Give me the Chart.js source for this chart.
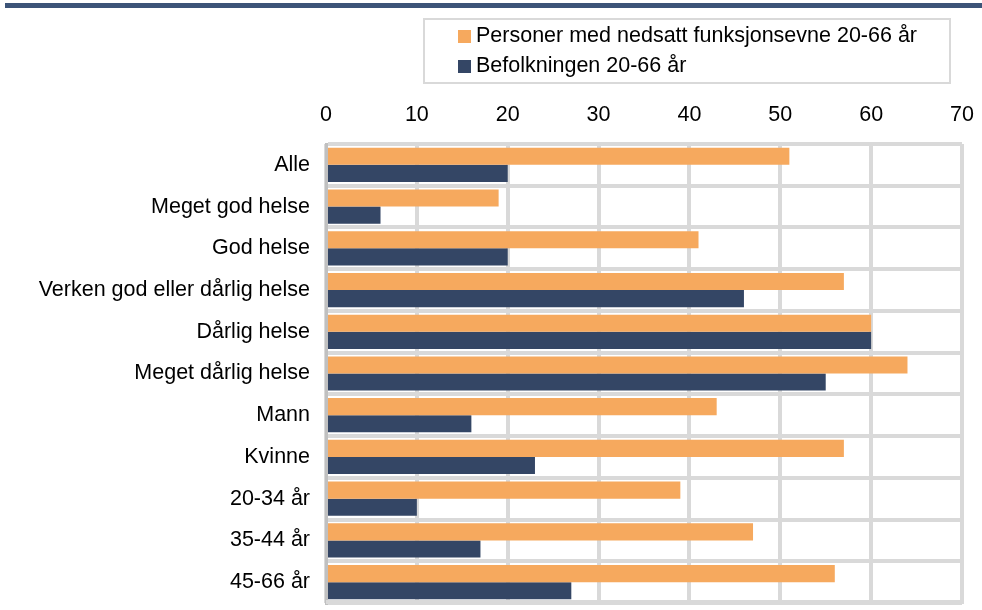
<!DOCTYPE html>
<html>
<head>
  <meta charset="utf-8">
  <title>Andel med helseplager</title>
  <script src="https://cdn.jsdelivr.net/npm/chart.js"></script>
  <style>
    body {
      margin: 0;
      padding: 0;
      background-color: #fff;
      font-family: "Liberation Sans", Arial, sans-serif;
    }
    .wrap {
      position: relative;
      width: 982px;
      height: 610px;
    }
    .topline {
      position: absolute;
      left: 5px;
      right: 0;
      top: 3px;
      height: 5px;
      background: #3c5478;
    }
    .legend {
      position: absolute;
      left: 423px;
      top: 18px;
      width: 528px;
      height: 66px;
      border: 2px solid #d9d9d9;
      box-sizing: border-box;
      padding-top: 0px;
      padding-left: 33px;
      font-size: 21.5px;
      color: #000;
    }
    .legend div {
      height: 30px;
      line-height: 30px;
      white-space: nowrap;
    }
    .legend span.box {
      display: inline-block;
      width: 13px;
      height: 13px;
      margin-right: 5px;
      vertical-align: -1px;
    }
    canvas {
      position: absolute;
      left: 0;
      top: 0;
    }
  </style>
</head>
<body>
  <div class="wrap">
    <canvas id="chart" width="982" height="610"></canvas>
    <div class="topline"></div>
    <div class="legend" id="legend"></div>
  </div>

  <script>
    // ----- Data -----
    const categories = [
      "Alle",
      "Meget god helse",
      "God helse",
      "Verken god eller dårlig helse",
      "Dårlig helse",
      "Meget dårlig helse",
      "Mann",
      "Kvinne",
      "20-34 år",
      "35-44 år",
      "45-66 år"
    ];

    const seriesNames = [
      "Personer med nedsatt funksjonsevne 20-66 år",
      "Befolkningen 20-66 år"
    ];

    const disabledValues = [51, 19, 41, 57, 60, 64, 43, 57, 39, 47, 56];
    const populationValues = [20, 6, 20, 46, 60, 55, 16, 23, 10, 17, 27];

    const xTicks = [0, 10, 20, 30, 40, 50, 60, 70];

    const colors = ["#f6a95e", "#344665"];

    // ----- Legend (html) -----
    const legendEl = document.getElementById("legend");
    seriesNames.forEach((name, i) => {
      const row = document.createElement("div");
      const box = document.createElement("span");
      box.className = "box";
      box.style.background = colors[i];
      row.appendChild(box);
      row.appendChild(document.createTextNode(name));
      legendEl.appendChild(row);
    });

    // bottom frame line of the plot area
    const frameBottom = {
      id: "frameBottom",
      beforeDatasetsDraw(chart) {
        const { ctx, chartArea } = chart;
        ctx.save();
        ctx.strokeStyle = "#d9d9d9";
        ctx.lineWidth = 4;
        ctx.beginPath();
        ctx.moveTo(chartArea.left, chartArea.bottom - 1);
        ctx.lineTo(chartArea.right + 2, chartArea.bottom - 1);
        ctx.stroke();
        ctx.restore();
      }
    };

    // ----- Chart -----
    const ctx = document.getElementById("chart").getContext("2d");
    new Chart(ctx, {
      type: "bar",
      data: {
        labels: categories,
        datasets: [
          {
            label: seriesNames[0],
            data: disabledValues,
            backgroundColor: colors[0]
          },
          {
            label: seriesNames[1],
            data: populationValues,
            backgroundColor: colors[1]
          }
        ]
      },
      options: {
        indexAxis: "y",
        responsive: false,
        animation: false,
        datasets: {
          bar: {
            categoryPercentage: 0.82,
            barPercentage: 1.0
          }
        },
        layout: {
          padding: { top: 100, left: 10, right: 20, bottom: 7 }
        },
        scales: {
          x: {
            position: "top",
            min: 0,
            max: 70,
            afterBuildTicks: (scale) => {
              scale.ticks = xTicks.map(v => ({ value: v }));
            },
            afterFit: (scale) => {
              scale.height = 44;
              scale.paddingLeft = 0;
              scale.paddingRight = 0;
            },
            grid: {
              color: "#d9d9d9",
              lineWidth: 4,
              drawTicks: false
            },
            border: { display: false },
            ticks: {
              color: "#000",
              padding: 16,
              font: { family: "Liberation Sans", size: 21.5 }
            }
          },
          y: {
            afterFit: (scale) => {
              scale.width = 316;
              scale.paddingTop = 0;
              scale.paddingBottom = 0;
            },
            grid: {
              color: "#d9d9d9",
              lineWidth: 4,
              drawTicks: false,
              offset: true
            },
            border: { display: true, color: "#c0c0c0", width: 3 },
            ticks: {
              color: "#000",
              padding: 16,
              font: { family: "Liberation Sans", size: 21.5 }
            }
          }
        },
        plugins: {
          legend: { display: false },
          tooltip: { enabled: false }
        }
      },
      plugins: [frameBottom]
    });
  </script>
</body>
</html>
